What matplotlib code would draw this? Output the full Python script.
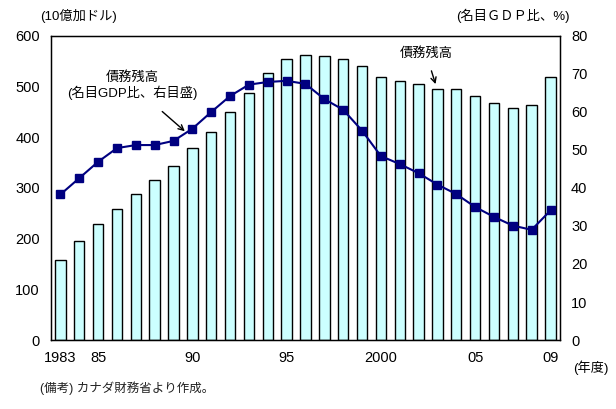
import matplotlib
matplotlib.use("Agg")
import matplotlib.pyplot as plt
import numpy as np

plt.rcParams['font.family'] = ['Liberation Sans', 'Noto Sans CJK JP', 'DejaVu Sans']

years = list(range(1983, 2010))
debt = [158, 195, 229, 258, 288, 315, 344, 379, 411, 450, 487, 526, 555, 563, 560,
        554, 540, 520, 512, 506, 496, 495, 482, 468, 458, 464, 519]
ratio = [38.3, 42.6, 46.9, 50.5, 51.3, 51.3, 52.4, 55.6, 60.0, 64.2, 67.2, 67.9, 68.2,
         67.4, 63.4, 60.6, 55.1, 48.4, 46.3, 43.9, 40.9, 38.4, 35.0, 32.4, 30.1, 29.0, 34.1]
xtick_years = [1983, 1985, 1990, 1995, 2000, 2005, 2009]
xtick_labels = ["1983", "85", "90", "95", "2000", "05", "09"]

fig = plt.figure(figsize=(6.16, 4.09), dpi=100)
ax = fig.add_axes([0.0828, 0.1687, 0.8262, 0.7433])
ax.bar(years, debt, width=0.55, color='#CCFFFF', edgecolor='black', linewidth=1.0, zorder=2)
ax.set_xlim(1982.5, 2009.5)
ax.set_ylim(0, 600)
ax.set_yticks(range(0, 601, 100))
ax.set_xticks(xtick_years)
ax.set_xticklabels(xtick_labels)
ax.tick_params(axis='both', length=0, labelsize=10.5, pad=8)
for s in ax.spines.values():
    s.set_linewidth(1.0)

ax2 = ax.twinx()
ax2.plot(years, ratio, color='#000080', linewidth=1.5, marker='s', markersize=5.3,
         markerfacecolor='#000080', markeredgecolor='#000080', zorder=3)
ax2.set_ylim(0, 80)
ax2.set_yticks(range(0, 81, 10))
ax2.tick_params(axis='y', length=0, labelsize=10.5, pad=8)

fig.text(0.065, 0.962, "(10億加ドル)", fontsize=9.5, ha='left', va='center')
fig.text(0.925, 0.962, "(名目ＧＤＰ比、%)", fontsize=9.5, ha='right', va='center')
fig.text(0.988, 0.100, "(年度)", fontsize=9.5, ha='right', va='center')
fig.text(0.065, 0.050, "(備考) カナダ財務省より作成。", fontsize=9, ha='left', va='center',
         color='#222222')

ax.annotate("債務残高\n(名目GDP比、右目盛)", xy=(1989.6, 412), xytext=(1986.8, 503),
            ha='center', va='center', fontsize=9.5, linespacing=1.15,
            arrowprops=dict(arrowstyle='->', color='black', lw=1.0, shrinkA=10, shrinkB=0))
ax.annotate("債務残高", xy=(2002.9, 505), xytext=(2002.4, 565),
            ha='center', va='center', fontsize=9.5,
            arrowprops=dict(arrowstyle='->', color='black', lw=1.0, shrinkA=6, shrinkB=0))

fig.savefig("out.png", dpi=100)
